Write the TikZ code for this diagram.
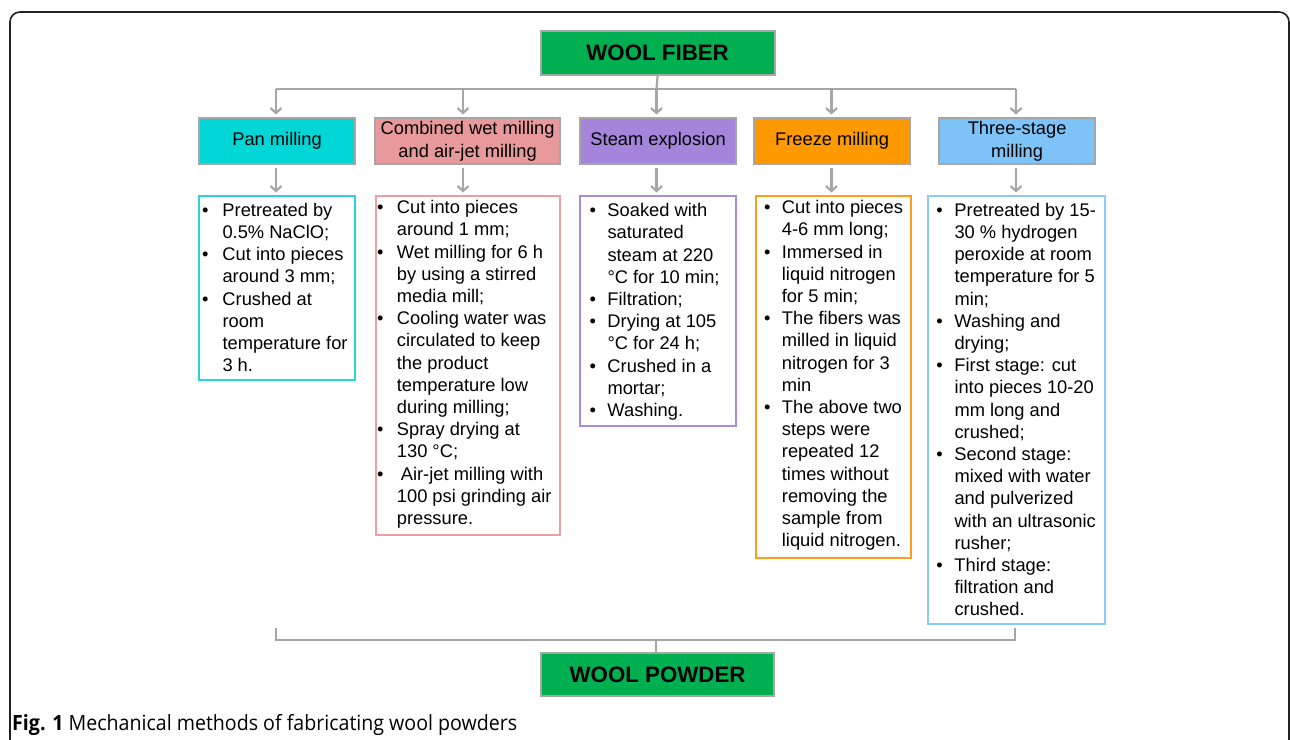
\documentclass[tikz,border=0pt]{standalone}
\usepackage{fontspec}
\setmainfont{Liberation Sans}
\newfontfamily\capfont{Open Sans}
\usetikzlibrary{arrows.meta}
\definecolor{gfill}{HTML}{00B050}
\definecolor{boxgray}{HTML}{A6A6A6}
\definecolor{linegray}{HTML}{A6A6A6}
\definecolor{cyanf}{HTML}{00D6D6}
\definecolor{pinkf}{HTML}{E8999C}
\definecolor{purpf}{HTML}{A584DC}
\definecolor{orangef}{HTML}{FF9900}
\definecolor{bluef}{HTML}{7DC3F7}
\definecolor{cyand}{HTML}{2AD4DC}
\definecolor{pinkd}{HTML}{EE9FA4}
\definecolor{purpd}{HTML}{A88BE0}
\definecolor{oranged}{HTML}{FF9E1A}
\definecolor{blued}{HTML}{8DCAF8}
\definecolor{framec}{HTML}{222222}
\newlength\bw
\newcommand\bul{\makebox[\bw][l]{\textbullet}}
\newcommand\ind{\hspace*{\bw}}
\begin{document}
\begin{tikzpicture}[x=1pt,y=-1pt,
 hdr/.style={draw=boxgray, line width=2.2pt, inner sep=0pt, anchor=north west, fill=gfill,
   font=\fontsize{22.3}{26}\selectfont\bfseries},
 cat/.style={draw=boxgray, line width=2.2pt, inner sep=0pt, anchor=north west, align=center,
   font=\fontsize{18.3}{22.6}\selectfont},
 det/.style={line width=2pt, inner sep=0pt, anchor=north west},
 dtxt/.style={inner sep=0pt, anchor=north west, font=\fontsize{18.3}{22.2}\selectfont\setlength{\bw}{#1}},
 conn/.style={draw=linegray, line width=2.2pt},
 arr/.style={conn, -{Straight Barb[length=5pt,width=11pt]}, shorten >=2.5pt},
]
\useasboundingbox (0,0) rectangle (1290,739);
\begin{scope}
\clip (0,0) rectangle (1290,739);
\draw[framec, line width=1.6pt, rounded corners=10pt] (10,770) -- (10,12) -- (1289,12) -- (1289,770);
\end{scope}

% header
\node[hdr, minimum width=234pt, minimum height=44pt] (wf) at (539.5,29.5) {WOOL FIBER};

% category boxes
\node[cat, fill=cyanf, minimum width=156pt, minimum height=46pt] (c1) at (198,117) {Pan milling};
\node[cat, fill=pinkf, minimum width=185pt, minimum height=46pt] (c2) at (374,117) {Combined wet milling\\and air-jet milling};
\node[cat, fill=purpf, minimum width=156pt, minimum height=46pt] (c3) at (579,117) {Steam explosion};
\node[cat, fill=orangef, minimum width=156pt, minimum height=46pt] (c4) at (753,117) {Freeze milling};
\node[cat, fill=bluef, minimum width=156pt, minimum height=46pt] (c5) at (938,117) {Three-stage\\milling};

% detail boxes
\node[det, draw=cyand, minimum width=156pt, minimum height=184pt] (d1) at (198,195) {};
\node[det, draw=pinkd, minimum width=184pt, minimum height=338.5pt] (d2) at (375,195) {};
\node[det, draw=purpd, minimum width=156pt, minimum height=230pt] (d3) at (578.5,195) {};
\node[det, draw=oranged, minimum width=155pt, minimum height=361.5pt] (d4) at (755,195) {};
\node[det, draw=blued, minimum width=177pt, minimum height=427.5pt] (d5) at (927,195) {};

% detail texts
\node[dtxt=20.3pt] (t1) at (202,200.46) {\begin{tabular}{@{}l@{}}
\bul Pretreated by\\
\ind 0.5\% NaClO;\\
\bul Cut into pieces\\
\ind around 3 mm;\\
\bul Crushed at\\
\ind room\\
\ind temperature for\\
\ind 3 h.
\end{tabular}};
\node[dtxt=19.7pt] (t2) at (377,197.96) {\begin{tabular}{@{}l@{}}
\bul Cut into pieces\\
\ind around 1 mm;\\
\bul Wet milling for 6 h\\
\ind by using a stirred\\
\ind media mill;\\
\bul Cooling water was\\
\ind circulated to keep\\
\ind the product\\
\ind temperature low\\
\ind during milling;\\
\bul Spray drying at\\
\ind 130 °C;\\
\bul \hspace*{4pt}Air-jet milling with\\
\ind 100 psi grinding air\\
\ind pressure.
\end{tabular}};
\node[dtxt=17.8pt] (t3) at (589.5,200.96) {\begin{tabular}{@{}l@{}}
\bul Soaked with\\
\ind saturated\\
\ind steam at 220\\
\ind °C for 10 min;\\
\bul Filtration;\\
\bul Drying at 105\\
\ind °C for 24 h;\\
\bul Crushed in a\\
\ind mortar;\\
\bul Washing.
\end{tabular}};
\node[dtxt=17.7pt] (t4) at (764,197.96) {\begin{tabular}{@{}l@{}}
\bul Cut into pieces\\
\ind 4-6 mm long;\\
\bul Immersed in\\
\ind liquid nitrogen\\
\ind for 5 min;\\
\bul The fibers was\\
\ind milled in liquid\\
\ind nitrogen for 3\\
\ind min\\
\bul The above two\\
\ind steps were\\
\ind repeated 12\\
\ind times without\\
\ind removing the\\
\ind sample from\\
\ind liquid nitrogen.
\end{tabular}};
\node[dtxt=18.1pt] (t5) at (936.2,200.46) {\begin{tabular}{@{}l@{}}
\bul Pretreated by 15-\\
\ind 30 \% hydrogen\\
\ind peroxide at room\\
\ind temperature for 5\\
\ind min;\\
\bul Washing and\\
\ind drying;\\
\bul First stage: cut\\
\ind into pieces 10-20\\
\ind mm long and\\
\ind crushed;\\
\bul Second stage:\\
\ind mixed with water\\
\ind and pulverized\\
\ind with an ultrasonic\\
\ind rusher;\\
\bul Third stage:\\
\ind filtration and\\
\ind crushed.
\end{tabular}};

% footer
\node[hdr, minimum width=233pt, minimum height=43.5pt] (wp) at (540,651.5) {WOOL POWDER};

% top connectors
\coordinate (j) at (656.5,89);
\coordinate (jL) at (276,89);
\coordinate (jR) at (1016,89);
\coordinate (a2) at (463,89);
\coordinate (a4) at (831.5,89);
\draw[conn] (wf.south) -- (j);
\draw[conn] (jL) -- (jR);
\draw[arr] (jL) -- (jL |- c1.north);
\draw[arr] (a2) -- (a2 |- c2.north);
\draw[arr] (j) -- (j |- c3.north);
\draw[arr] (a4) -- (a4 |- c4.north);
\draw[arr] (jR) -- (jR |- c5.north);

% second row arrows
\draw[arr] ([yshift=-3pt]jL |- c1.south) -- (jL |- d1.north);
\draw[arr] ([yshift=-3pt]a2 |- c2.south) -- (a2 |- d2.north);
\draw[arr] ([yshift=-3pt]j |- c3.south) -- (j |- d3.north);
\draw[arr] ([yshift=-3pt]a4 |- c4.south) -- (a4 |- d4.north);
\draw[arr] ([yshift=-3pt]jR |- c5.south) -- (jR |- d5.north);

% bottom connector
\coordinate (bl) at (276,628);
\coordinate (bl2) at (276,640);
\coordinate (br2) at (1015,640);
\coordinate (br) at (1015,628);
\coordinate (bm) at (656,640);
\draw[conn] (bl) -- (bl2) -- (br2) -- (br);
\draw[conn] (bm) -- (bm |- wp.north);

% caption
\node[inner sep=0pt, anchor=base west] (cap) at (12,730)
 {\resizebox{505pt}{\height}{\capfont\fontsize{21}{25}\selectfont\textbf{Fig. 1} Mechanical methods of fabricating wool powders}};
\end{tikzpicture}
\end{document}
